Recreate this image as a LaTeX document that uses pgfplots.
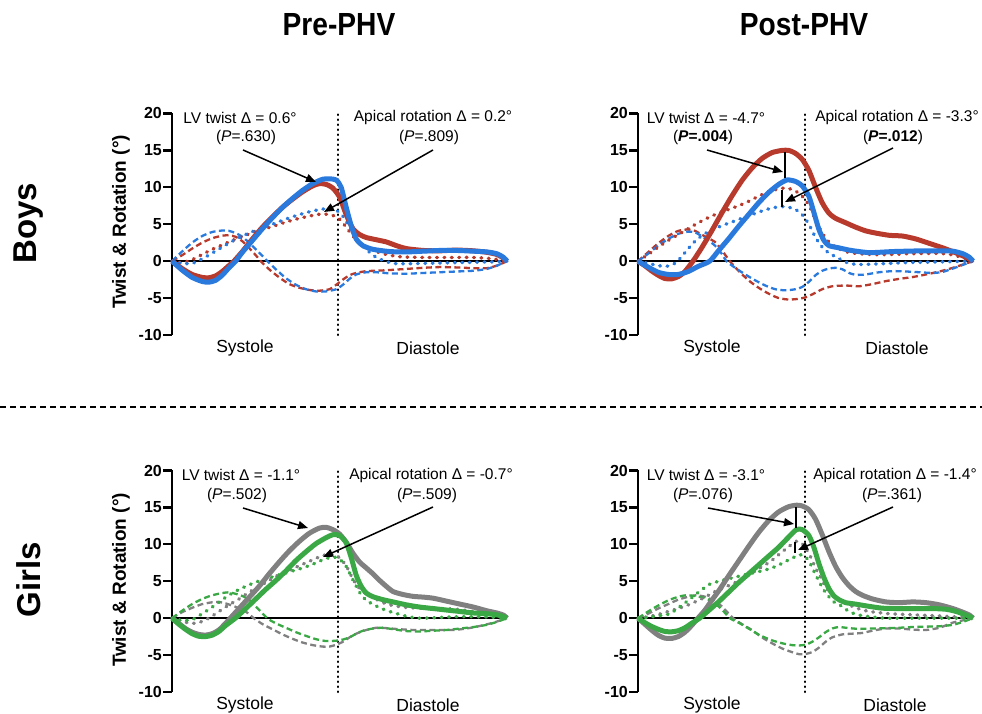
\documentclass[border=0pt]{standalone}
\usepackage{fontspec}
\setmainfont{Liberation Sans}
\usepackage{pgfplots}
\pgfplotsset{compat=1.18}
\usetikzlibrary{arrows.meta}

\definecolor{cred}{RGB}{183,58,44}
\definecolor{cblue}{RGB}{42,122,222}
\definecolor{cgreen}{RGB}{58,168,68}
\definecolor{cgray}{RGB}{128,128,128}

\pgfplotsset{
  panel/.style={
    scale only axis, width=335pt, height=221.5pt,
    xmin=0, xmax=100, ymin=-10, ymax=20,
    axis x line=none, axis y line=left,
    y axis line style={-, line width=2.7pt},
    ytick={-10,-5,0,5,10,15,20},
    tick align=outside, major tick length=9pt,
    every tick/.style={black, line width=2.2pt},
    yticklabel style={font=\fontsize{16}{16}\selectfont\bfseries, inner xsep=1pt},
    /pgf/number format/assume math mode=true,
    clip=false, anchor=south west,
  },
  solidc/.style={line width=5pt, smooth, tension=0.4, line join=round},
  dotc/.style={line width=3.4pt, dash pattern=on 0.8pt off 6.6pt, line cap=round, smooth, tension=0.4},
  dashc/.style={line width=2.3pt, dash pattern=on 6pt off 3.5pt, smooth, tension=0.4},
  zeroline/.style={black, line width=1.8pt},
  divline/.style={black, line width=2.2pt, dash pattern=on 0.5pt off 4.5pt, line cap=round},
}

\begin{document}
\begin{tikzpicture}[x=1pt,y=1pt]
\useasboundingbox (0,0) rectangle (982,714);

% ---------- Boys, Pre-PHV ----------
\begin{axis}[panel, at={(172pt,379pt)}]
\addplot[zeroline] coordinates {(0,0) (100,0)};
\addplot[divline] coordinates {(49.5,-10) (49.5,20)};
\addplot[dashc, cred] coordinates {(0,0) (3,0.8) (6,1.7) (9,2.5) (12,3.1) (15,3.45) (17,3.5) (19,3.3) (21,2.7) (23,1.8) (25,0.8) (26.5,0) (29,-1.1) (32,-2.2) (35,-3.1) (38,-3.6) (41,-3.9) (44,-4.0) (47,-3.8) (49,-3.2) (51,-2.5) (53,-1.9) (55,-1.6) (58,-1.35) (61,-1.3) (65,-1.2) (70,-1.05) (75,-0.9) (80,-0.8) (85,-0.85) (90,-0.95) (94,-0.95) (97,-0.6) (100,0)};
\addplot[dashc, cblue] coordinates {(0,0) (3,1.3) (6,2.5) (9,3.4) (12,3.95) (15,4.15) (17,4.1) (19,3.8) (21,3.3) (23,2.5) (25,1.6) (27,0.7) (28.5,0) (31,-1.1) (34,-2.3) (37,-3.2) (40,-3.8) (43,-4.1) (46,-4.1) (49,-3.8) (51,-3.2) (53,-2.4) (55,-1.8) (58,-1.5) (61,-1.5) (65,-1.65) (70,-1.7) (75,-1.6) (80,-1.5) (85,-1.4) (90,-1.3) (94,-1.05) (97,-0.6) (100,0)};
\addplot[dotc, cred] coordinates {(0,0) (3,-0.2) (6,0.2) (9,0.9) (12,1.6) (15,2.2) (18,2.8) (21,3.3) (24,3.9) (27,4.3) (30,4.7) (34,5.3) (38,5.8) (42,6.2) (45,6.4) (48,6.2) (50,5.7) (52,4.6) (54,3.4) (56,2.5) (58,1.9) (61,1.3) (64,0.9) (68,0.6) (75,0.5) (80,0.5) (85,0.5) (90,0.5) (95,0.35) (98,0.15) (100,0)};
\addplot[dotc, cblue] coordinates {(0,0) (3,-0.3) (6,-0.3) (9,0.3) (12,1.1) (15,1.9) (18,2.7) (21,3.4) (24,4.0) (27,4.5) (30,5.0) (34,5.7) (38,6.3) (42,6.8) (46,7.1) (49,6.9) (51,6.1) (53,4.6) (55,3.1) (57,2.0) (59,1.2) (61,0.5) (63,0.1) (66,-0.3) (70,-0.35) (75,-0.3) (80,-0.25) (85,-0.2) (90,-0.15) (95,-0.1) (100,0)};
\addplot[solidc, cred] coordinates {(0,0) (3,-1.0) (6,-1.8) (9,-2.2) (11,-2.25) (13,-2.0) (15,-1.4) (17,-0.6) (18.5,0) (21,1.3) (24,3.0) (27,4.6) (30,6.0) (33,7.3) (36,8.4) (39,9.4) (42,10.2) (44,10.5) (46,10.4) (48,9.9) (50,8.7) (52,6.3) (54,4.4) (56,3.6) (58,3.2) (61,2.9) (64,2.6) (67,2.1) (70,1.7) (75,1.45) (80,1.4) (85,1.5) (90,1.4) (94,1.2) (97,0.9) (99,0.4) (100,0)};
\addplot[solidc, cblue] coordinates {(0,0) (3,-1.2) (6,-2.2) (9,-2.75) (11,-2.85) (13,-2.6) (15,-1.9) (17,-0.9) (19,0) (21,1.2) (24,2.8) (27,4.4) (30,5.9) (33,7.3) (36,8.5) (39,9.6) (42,10.5) (45,11.1) (47,11.15) (49,11.0) (50.5,10.0) (52,7.3) (53.5,4.8) (55,3.0) (57,2.1) (60,1.6) (65,1.3) (70,1.25) (75,1.35) (80,1.45) (85,1.45) (90,1.35) (94,1.25) (97,1.0) (99,0.5) (100,0)};
\end{axis}

% ---------- Boys, Post-PHV ----------
\begin{axis}[panel, at={(638pt,379pt)}]
\addplot[zeroline] coordinates {(0,0) (100,0)};
\addplot[divline] coordinates {(49.8,-10) (49.8,20)};
\addplot[dashc, cred] coordinates {(0,0) (3,1.2) (6,2.4) (9,3.4) (12,4.1) (15,4.3) (17,4.1) (19,3.6) (21,3.1) (23,2.6) (25,1.5) (27.4,0) (30,-1.3) (33,-2.6) (36,-3.6) (39,-4.4) (42,-5.0) (45,-5.2) (48,-5.1) (50,-4.9) (52,-4.5) (55,-3.8) (58,-3.4) (62,-3.3) (66,-3.4) (70,-3.1) (74,-2.7) (78,-2.4) (82,-2.15) (86,-1.8) (90,-1.4) (94,-0.9) (97,-0.45) (100,0)};
\addplot[dashc, cblue] coordinates {(0,0) (3,1.0) (6,2.1) (9,3.0) (12,3.7) (15,4.0) (17,3.9) (19,3.4) (21,2.8) (23,2.1) (25,1.0) (26.4,0) (29,-0.9) (32,-1.8) (35,-2.6) (38,-3.3) (41,-3.8) (44,-3.95) (47,-3.8) (49,-3.5) (51,-2.8) (53,-1.9) (55,-1.3) (57,-1.0) (59,-0.9) (61,-1.1) (63,-1.6) (65,-1.85) (68,-1.8) (72,-1.5) (76,-1.35) (80,-1.4) (84,-1.5) (88,-1.6) (91,-1.45) (94,-1.0) (97,-0.5) (100,0)};
\addplot[dotc, cred] coordinates {(0,0) (3,0.9) (6,1.9) (9,2.8) (12,3.6) (15,4.4) (18,5.2) (21,5.9) (24,6.5) (27,7.0) (30,7.5) (33,8.1) (36,8.8) (39,9.4) (42,9.8) (44.5,9.9) (47,9.5) (49,8.8) (51,7.6) (53,5.6) (55,3.8) (57,2.6) (59,1.9) (62,1.3) (65,1.05) (70,0.9) (75,0.9) (80,1.0) (85,1.05) (90,1.05) (94,0.85) (97,0.45) (100,0)};
\addplot[dotc, cblue] coordinates {(0,0) (3,-0.3) (6,-0.6) (8.5,-0.7) (11,-0.3) (13,0.6) (15,1.7) (17,2.7) (19.5,3.6) (22,4.2) (25,4.8) (28,5.3) (31,5.8) (34,6.3) (37,6.8) (40,7.2) (43,7.4) (45,7.3) (47,7.0) (49,6.3) (51,5.0) (53,3.2) (55,1.9) (57,1.1) (59,0.6) (61,0.1) (63,-0.3) (66,-0.45) (70,-0.4) (75,-0.3) (80,-0.2) (85,-0.15) (90,-0.1) (95,-0.05) (100,0)};
\addplot[solidc, cred] coordinates {(0,0) (2,-0.6) (4,-1.3) (6,-1.9) (8,-2.35) (10,-2.4) (12,-2.1) (14,-1.4) (16.4,0) (19,1.8) (22,4.1) (25,6.5) (28,8.8) (31,10.9) (34,12.6) (37,13.9) (40,14.7) (43,15.0) (45,15.0) (47,14.6) (49,13.8) (51,12.3) (53,10.0) (55,7.9) (57,6.5) (59,5.8) (62,5.2) (65,4.6) (68,4.1) (71,3.8) (75,3.5) (79,3.4) (83,3.0) (87,2.4) (91,1.8) (95,1.1) (98,0.5) (100,0)};
\addplot[solidc, cblue] coordinates {(0,0) (3,-0.8) (6,-1.5) (9,-1.8) (12,-1.8) (15,-1.4) (18,-0.7) (21.4,0) (24,1.4) (27,3.0) (30,4.7) (33,6.3) (36,7.9) (39,9.3) (42,10.4) (44.5,11.0) (47,10.8) (49,10.2) (51,8.8) (52.5,6.6) (54,4.3) (55.5,2.8) (57,2.1) (60,1.8) (63,1.5) (66,1.3) (69,1.15) (72,1.2) (76,1.3) (80,1.35) (85,1.4) (90,1.4) (94,1.35) (97,1.0) (99,0.5) (100,0)};
\end{axis}

% ---------- Girls, Pre-PHV ----------
\begin{axis}[panel, at={(172pt,22pt)}]
\addplot[zeroline] coordinates {(0,0) (100,0)};
\addplot[divline] coordinates {(49.5,-10) (49.5,20)};
\addplot[dashc, cgray] coordinates {(0,0) (3,0.8) (6,1.4) (9,1.9) (12,2.15) (14,2.2) (16,2.0) (18,1.7) (20,1.35) (22,0.9) (24.4,0) (27,-0.8) (30,-1.5) (33,-2.2) (36,-2.8) (39,-3.3) (42,-3.65) (45,-3.85) (47,-3.85) (49,-3.6) (51,-3.2) (53,-2.6) (55,-2.1) (58,-1.6) (61,-1.3) (64,-1.35) (68,-1.5) (72,-1.6) (76,-1.6) (80,-1.6) (84,-1.6) (88,-1.4) (92,-1.05) (96,-0.6) (100,0)};
\addplot[dashc, cgreen] coordinates {(0,0) (3,1.0) (6,1.9) (9,2.6) (12,3.1) (15,3.4) (17,3.5) (19,3.3) (21,3.0) (23,2.5) (25,1.6) (28.4,0) (31,-0.7) (34,-1.3) (37,-1.9) (40,-2.4) (43,-2.85) (46,-3.1) (49,-3.05) (51,-2.9) (53,-2.6) (55,-2.1) (57,-1.7) (60,-1.4) (63,-1.3) (66,-1.5) (70,-1.75) (74,-1.8) (78,-1.7) (82,-1.6) (86,-1.4) (90,-1.2) (94,-0.9) (97,-0.5) (100,0)};
\addplot[dotc, cgray] coordinates {(0,0) (3,-0.4) (5.5,-0.7) (8,-0.6) (11,0.0) (14,0.9) (17,1.8) (20,2.6) (23,3.5) (26,4.3) (29,5.1) (32,5.9) (35,6.5) (38,7.1) (41,7.7) (44,8.3) (46,8.6) (48,8.6) (50,8.2) (52,7.1) (54,5.3) (56,4.0) (58,3.3) (60,2.8) (63,2.1) (66,1.7) (70,1.45) (75,1.35) (80,1.3) (85,1.2) (90,0.9) (94,0.55) (97,0.3) (100,0)};
\addplot[dotc, cgreen] coordinates {(0,0) (3,-0.3) (6,-0.2) (9,0.6) (12,1.5) (15,2.5) (18,3.4) (21,4.1) (24,4.7) (27,5.2) (30,5.6) (33,6.0) (36,6.4) (39,6.8) (42,7.3) (45,7.9) (48,8.3) (50,8.0) (52,7.0) (54,5.2) (56,3.5) (58,2.4) (60,1.9) (62,1.4) (65,0.9) (68,0.5) (71,0.15) (74,0.0) (78,0.05) (82,0.15) (86,0.2) (90,0.2) (94,0.15) (97,0.1) (100,0)};
\addplot[solidc, cgray] coordinates {(0,0) (2,-0.7) (4,-1.4) (6,-1.9) (8,-2.2) (10,-2.3) (12,-2.1) (14,-1.6) (16,-0.7) (17.4,0) (20,1.3) (23,2.8) (26,4.3) (29,6.0) (32,7.6) (35,9.1) (38,10.4) (41,11.5) (44,12.2) (46,12.3) (48,12.0) (50,11.4) (52,10.3) (54,8.8) (56,7.6) (58,6.8) (60,6.0) (62,5.1) (64,4.3) (66,3.6) (69,3.2) (72,2.95) (75,2.85) (78,2.7) (82,2.3) (86,1.9) (90,1.5) (94,1.0) (97,0.7) (99,0.4) (100,0)};
\addplot[solidc, cgreen] coordinates {(0,0) (2,-0.8) (4,-1.5) (6,-2.1) (8,-2.45) (10,-2.5) (12,-2.3) (14,-1.8) (16,-1.0) (18.9,0) (22,1.3) (25,2.6) (28,3.9) (31,5.1) (34,6.4) (37,7.8) (40,9.0) (43,10.1) (46,10.9) (48,11.3) (50,11.2) (52,10.2) (53.5,8.2) (55,5.8) (56.5,4.3) (58,3.4) (60,2.9) (63,2.5) (66,2.2) (70,1.8) (74,1.5) (78,1.3) (82,1.1) (86,0.9) (90,0.7) (94,0.6) (97,0.45) (99,0.2) (100,0)};
\end{axis}

% ---------- Girls, Post-PHV ----------
\begin{axis}[panel, at={(638pt,22pt)}]
\addplot[zeroline] coordinates {(0,0) (100,0)};
\addplot[divline] coordinates {(49.8,-10) (49.8,20)};
\addplot[dashc, cgray] coordinates {(0,0) (3,0.6) (6,1.3) (9,1.9) (12,2.5) (15,2.9) (17.4,3.1) (20,2.9) (23,2.3) (25,1.6) (28.4,0) (31,-0.8) (34,-1.6) (37,-2.6) (40,-3.4) (43,-4.1) (46,-4.6) (48.3,-4.9) (50,-4.85) (52,-4.6) (54,-4.0) (56,-3.2) (58,-2.6) (61,-2.2) (64,-2.1) (67,-2.0) (70,-1.7) (74,-1.4) (78,-1.4) (82,-1.55) (86,-1.6) (90,-1.3) (94,-0.6) (97,-0.3) (100,0)};
\addplot[dashc, cgreen] coordinates {(0,0) (3,0.9) (6,1.7) (9,2.4) (12,2.9) (14.4,3.1) (17,3.0) (20,2.7) (22.4,2.2) (25,1.2) (27.4,0) (30,-0.6) (33,-1.4) (36.3,-2.3) (40,-3.0) (43,-3.4) (46,-3.65) (48,-3.7) (50,-3.6) (52,-3.2) (54,-2.6) (56,-1.9) (58,-1.4) (60,-1.2) (63,-1.35) (66,-1.45) (70,-1.4) (74,-1.35) (78,-1.3) (82,-1.2) (86,-1.15) (90,-1.1) (94,-0.9) (97,-0.5) (100,0)};
\addplot[dotc, cgray] coordinates {(0,0) (3,0.2) (6,0.5) (9,0.9) (12,1.3) (15,1.8) (19.4,2.7) (23,3.6) (26,4.2) (29.4,4.9) (33,5.8) (36,6.7) (39.3,7.6) (42,8.6) (45,9.7) (47.3,10.4) (49,10.1) (51,8.8) (53,6.8) (55.2,4.9) (57,3.6) (59,2.8) (61.2,2.2) (64,1.6) (67,1.1) (70,0.85) (75,0.6) (80,0.5) (85,0.4) (90,0.3) (95,0.15) (100,0)};
\addplot[dotc, cgreen] coordinates {(0,0) (3,0.1) (6,0.3) (9.5,0.6) (12,1.4) (15,2.4) (18,3.5) (21.4,4.6) (25,5.1) (29.4,5.6) (33,6.0) (36,6.3) (39.3,6.7) (42,7.2) (45,7.9) (48.3,8.6) (50,8.3) (51.2,7.6) (53,5.9) (55.2,4.0) (57,2.9) (58.5,2.2) (60.2,1.8) (62,1.2) (64,0.7) (66.2,0.4) (70,0.15) (74,0.0) (80,0) (85,0) (90,0) (95,0) (100,0)};
\addplot[solidc, cgray] coordinates {(0,0) (2,-0.8) (4,-1.6) (6,-2.3) (8,-2.7) (10,-2.75) (12,-2.5) (14,-1.9) (16,-1.0) (17.9,0) (20,1.1) (22,2.4) (24.4,3.9) (27,5.7) (30,7.7) (33,9.7) (36,11.6) (39,13.2) (42,14.4) (45,15.1) (47.3,15.3) (49,15.2) (51,14.7) (53,13.4) (55,11.3) (57,9.0) (59,7.0) (61,5.5) (63,4.4) (65,3.6) (67,3.1) (70,2.6) (74,2.2) (78,2.1) (82,2.2) (86,2.1) (90,1.8) (94,1.3) (97,0.8) (99,0.4) (100,0)};
\addplot[solidc, cgreen] coordinates {(0,0) (2,-0.6) (4,-1.1) (6,-1.5) (8,-1.8) (10,-1.85) (12,-1.7) (14,-1.3) (16,-0.7) (18.4,0) (21,1.0) (24,2.2) (27,3.5) (30,4.8) (33,6.0) (36,7.2) (39,8.4) (42,9.6) (45,11.0) (47.3,12.0) (49,12.0) (51,11.2) (52.5,9.6) (54,7.4) (55.5,5.5) (57,4.0) (58.5,3.0) (60,2.5) (62,2.1) (65,1.9) (69,1.6) (73,1.35) (78,1.3) (83,1.3) (88,1.3) (92,1.2) (95,0.9) (98,0.4) (100,0)};
\end{axis}

% ---------- titles and labels ----------
\node[font=\fontsize{32}{32}\selectfont\bfseries] at (339,689) {\scalebox{0.88}[1]{Pre-PHV}};
\node[font=\fontsize{32}{32}\selectfont\bfseries] at (804,689) {\scalebox{0.88}[1]{Post-PHV}};
\node[rotate=90, font=\fontsize{33}{33}\selectfont\bfseries] at (29,491) {Boys};
\node[rotate=90, font=\fontsize{33}{33}\selectfont\bfseries] at (29,134) {Girls};
\node[rotate=90, font=\fontsize{19}{19}\selectfont\bfseries] at (121,492) {Twist \& Rotation (°)};
\node[rotate=90, font=\fontsize{19}{19}\selectfont\bfseries] at (121,134) {Twist \& Rotation (°)};
\draw[line width=2pt, dash pattern=on 6pt off 4pt] (0,307) -- (982,307);

\begin{scope}[every node/.style={font=\fontsize{17.5}{17.5}\selectfont}]
\node at (245,366) {Systole};  \node at (428,366) {Diastole};
\node at (712,366) {Systole};  \node at (897,366) {Diastole};
\node at (245,9) {Systole};    \node at (428,9) {Diastole};
\node at (712,9) {Systole};    \node at (895,9) {Diastole};
\end{scope}

\begin{scope}[every node/.style={font=\fontsize{15.5}{16}\selectfont},
  arr/.style={line width=1.5pt, -{Triangle[length=10pt,width=8pt]}}]
% boys pre
\node at (240,596) {LV twist Δ = 0.6°};
\node at (246,577) {(\textit{P}=.630)};
\node at (433,596) {Apical rotation Δ = 0.2°};
\node at (429,577) {(\textit{P}=.809)};
\draw[arr] (243,564) -- (316,532);
\draw[arr] (433,564) -- (324,502);
% boys post
\node at (706,596) {LV twist Δ = -4.7°};
\node at (703,577) {(\textbf{\textit{P}=.004})};
\node at (897,596) {Apical rotation Δ = -3.3°};
\node at (893,577) {(\textbf{\textit{P}=.012})};
\draw[arr] (707,564) -- (783,542);
\draw[arr] (893,566) -- (785,512);
\draw[line width=1.5pt] (785,562) -- (785,536);
\draw[line width=1.5pt] (782,524) -- (782,507);
% girls pre
\node at (241,239) {LV twist Δ = -1.1°};
\node at (237,219) {(\textit{P}=.502)};
\node at (431,239) {Apical rotation Δ = -0.7°};
\node at (427,219) {(\textit{P}=.509)};
\draw[arr] (243,206) -- (308,186);
\draw[arr] (433,207) -- (323,157);
% girls post
\node at (706,239) {LV twist Δ = -3.1°};
\node at (703,219) {(\textit{P}=.076)};
\node at (895,239) {Apical rotation Δ = -1.4°};
\node at (892,219) {(\textit{P}=.361)};
\draw[arr] (708,206) -- (794,190);
\draw[arr] (893,207) -- (798,164);
\draw[line width=1.5pt] (796,207) -- (796,186);
\draw[line width=1.5pt] (795,172) -- (795,161);
\end{scope}
\end{tikzpicture}
\end{document}
